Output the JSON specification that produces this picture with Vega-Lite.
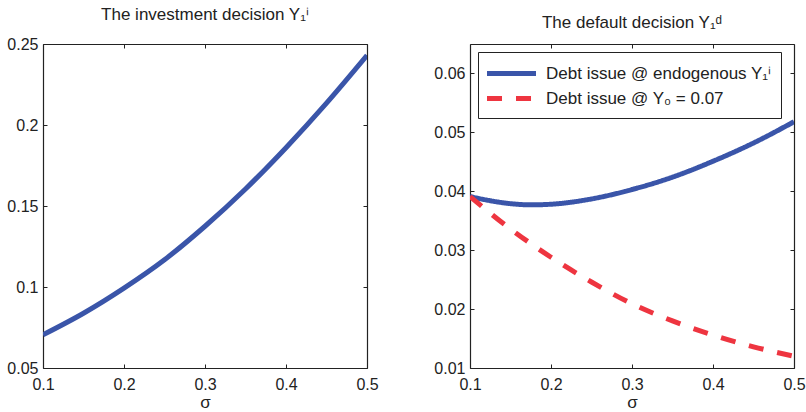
{
  "$schema": "https://vega.github.io/schema/vega-lite/v6.json",
  "padding": {"left": 6, "top": 6, "right": 0, "bottom": 0},
  "background": "white",
  "config": {
    "font": "Liberation Sans",
    "view": {"stroke": null},
    "axis": {
      "grid": false,
      "domainColor": "#222222",
      "domainWidth": 1.2,
      "tickColor": "#222222",
      "tickWidth": 1,
      "tickSize": -4,
      "labelFont": "Liberation Sans",
      "labelFontSize": 16,
      "labelColor": "#222222",
      "titleFont": "Liberation Sans",
      "titleFontSize": 17,
      "titleFontWeight": "normal",
      "titleColor": "#222222",
      "minExtent": 0,
      "labelFlush": false,
      "labelOverlap": false
    },
    "title": {"font": "Liberation Sans", "fontSize": 17, "fontWeight": "normal", "color": "#222222", "anchor": "middle", "offset": 12},
    "legend": {
      "labelFont": "Liberation Sans",
      "labelFontSize": 17,
      "labelColor": "#222222",
      "labelLimit": 0,
      "symbolType": "M-2.5,0H2.5",
      "symbolStrokeWidth": 5,
      "symbolSize": 384,
      "symbolOffset": 12,
      "strokeColor": "#222222",
      "fillColor": "white",
      "padding": 9,
      "rowPadding": 2,
      "labelOffset": 22,
      "cornerRadius": 0
    }
  },
  "datasets": {
    "inv": [
      {"sigma": 0.10, "value": 0.0705},
      {"sigma": 0.15, "value": 0.0838},
      {"sigma": 0.20, "value": 0.0993},
      {"sigma": 0.25, "value": 0.1168},
      {"sigma": 0.30, "value": 0.1375},
      {"sigma": 0.35, "value": 0.1605},
      {"sigma": 0.40, "value": 0.1860},
      {"sigma": 0.45, "value": 0.2135},
      {"sigma": 0.50, "value": 0.2430}
    ],
    "def": [
      {"sigma": 0.100, "value": 0.0391, "series": "Debt issue @ endogenous Y₁ⁱ"},
      {"sigma": 0.125, "value": 0.0384, "series": "Debt issue @ endogenous Y₁ⁱ"},
      {"sigma": 0.150, "value": 0.0379, "series": "Debt issue @ endogenous Y₁ⁱ"},
      {"sigma": 0.175, "value": 0.0377, "series": "Debt issue @ endogenous Y₁ⁱ"},
      {"sigma": 0.200, "value": 0.0378, "series": "Debt issue @ endogenous Y₁ⁱ"},
      {"sigma": 0.250, "value": 0.0387, "series": "Debt issue @ endogenous Y₁ⁱ"},
      {"sigma": 0.300, "value": 0.0403, "series": "Debt issue @ endogenous Y₁ⁱ"},
      {"sigma": 0.350, "value": 0.0424, "series": "Debt issue @ endogenous Y₁ⁱ"},
      {"sigma": 0.400, "value": 0.0451, "series": "Debt issue @ endogenous Y₁ⁱ"},
      {"sigma": 0.450, "value": 0.0482, "series": "Debt issue @ endogenous Y₁ⁱ"},
      {"sigma": 0.500, "value": 0.0518, "series": "Debt issue @ endogenous Y₁ⁱ"},
      {"sigma": 0.10, "value": 0.0391, "series": "Debt issue @ Y₀ = 0.07"},
      {"sigma": 0.15, "value": 0.0336, "series": "Debt issue @ Y₀ = 0.07"},
      {"sigma": 0.20, "value": 0.0288, "series": "Debt issue @ Y₀ = 0.07"},
      {"sigma": 0.25, "value": 0.0246, "series": "Debt issue @ Y₀ = 0.07"},
      {"sigma": 0.30, "value": 0.0209, "series": "Debt issue @ Y₀ = 0.07"},
      {"sigma": 0.35, "value": 0.0180, "series": "Debt issue @ Y₀ = 0.07"},
      {"sigma": 0.40, "value": 0.0156, "series": "Debt issue @ Y₀ = 0.07"},
      {"sigma": 0.45, "value": 0.0136, "series": "Debt issue @ Y₀ = 0.07"},
      {"sigma": 0.50, "value": 0.0120, "series": "Debt issue @ Y₀ = 0.07"}
    ]
  },
  "spacing": 54,
  "hconcat": [
    {
      "width": 324,
      "height": 324,
      "title": {"text": "The investment decision Y₁ⁱ"},
      "data": {"name": "inv"},
      "layer": [
        {
          "mark": {"type": "line", "color": "#3A55A9", "strokeWidth": 5, "interpolate": "monotone", "clip": true},
          "encoding": {
            "x": {"field": "sigma", "type": "quantitative", "scale": {"domain": [0.1, 0.5], "nice": false, "zero": false},
                  "axis": {"orient": "bottom", "values": [0.1, 0.2, 0.3, 0.4, 0.5], "format": "~g", "title": "σ", "labelPadding": 12, "titlePadding": 2}},
            "y": {"field": "value", "type": "quantitative", "scale": {"domain": [0.05, 0.25], "nice": false, "zero": false},
                  "axis": {"orient": "left", "values": [0.05, 0.1, 0.15, 0.2, 0.25], "format": "~g", "title": null, "labelPadding": 9}}
          }
        },
        {
          "mark": {"type": "line", "strokeOpacity": 0},
          "encoding": {
            "x": {"field": "sigma", "type": "quantitative", "axis": {"orient": "top", "values": [0.1, 0.2, 0.3, 0.4, 0.5], "labels": false, "title": null}},
            "y": {"field": "value", "type": "quantitative", "axis": {"orient": "right", "values": [0.05, 0.1, 0.15, 0.2, 0.25], "labels": false, "title": null}}
          }
        }
      ],
      "resolve": {"axis": {"x": "independent", "y": "independent"}}
    },
    {
      "width": 324,
      "height": 324,
      "title": {"text": "The default decision Y₁ᵈ"},
      "data": {"name": "def"},
      "layer": [
        {
          "mark": {"type": "line", "strokeWidth": 5, "interpolate": "monotone", "clip": true},
          "encoding": {
            "x": {"field": "sigma", "type": "quantitative", "scale": {"domain": [0.1, 0.5], "nice": false, "zero": false},
                  "axis": {"orient": "bottom", "values": [0.1, 0.2, 0.3, 0.4, 0.5], "format": "~g", "title": "σ", "labelPadding": 12, "titlePadding": 2}},
            "y": {"field": "value", "type": "quantitative", "scale": {"domain": [0.01, 0.065], "nice": false, "zero": false},
                  "axis": {"orient": "left", "values": [0.01, 0.02, 0.03, 0.04, 0.05, 0.06], "format": "~g", "title": null, "labelPadding": 9}},
            "color": {"field": "series", "type": "nominal",
                      "scale": {"domain": ["Debt issue @ endogenous Y₁ⁱ", "Debt issue @ Y₀ = 0.07"], "range": ["#3A55A9", "#EE3540"]},
                      "legend": {"title": null, "orient": "none", "legendX": 435, "legendY": 8}},
            "strokeDash": {"field": "series", "type": "nominal",
                      "scale": {"domain": ["Debt issue @ endogenous Y₁ⁱ", "Debt issue @ Y₀ = 0.07"], "range": [[1, 0], [15, 14]]},
                      "legend": {"title": null, "orient": "none", "legendX": 435, "legendY": 8}}
          }
        },
        {
          "mark": {"type": "line", "strokeOpacity": 0},
          "encoding": {
            "x": {"field": "sigma", "type": "quantitative", "axis": {"orient": "top", "values": [0.1, 0.2, 0.3, 0.4, 0.5], "labels": false, "title": null}},
            "y": {"field": "value", "type": "quantitative", "axis": {"orient": "right", "values": [0.01, 0.02, 0.03, 0.04, 0.05, 0.06], "labels": false, "title": null}}
          }
        }
      ],
      "resolve": {"axis": {"x": "independent", "y": "independent"}}
    }
  ]
}
